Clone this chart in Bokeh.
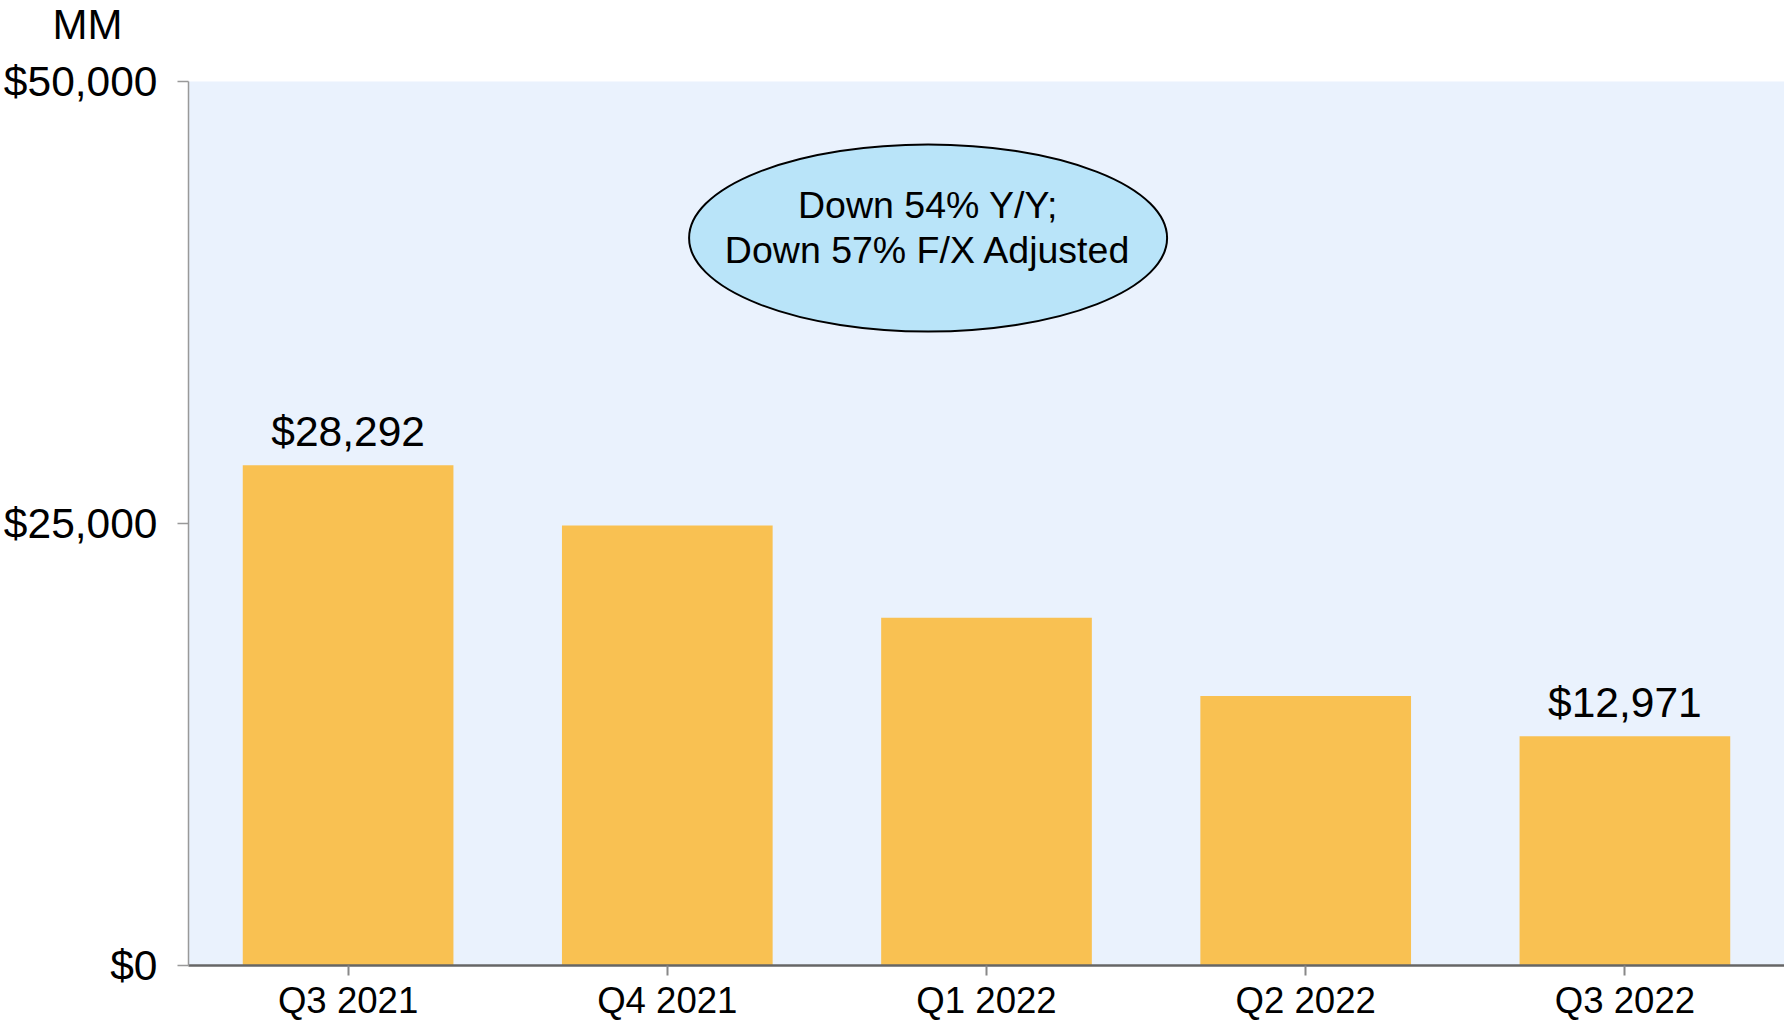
from bokeh.plotting import figure
from bokeh.models import ColumnDataSource, Range1d, FixedTicker, NumeralTickFormatter, Title
from bokeh.core.properties import value
from bokeh.embed import file_html
from bokeh.resources import INLINE

quarters = ["Q3 2021", "Q4 2021", "Q1 2022", "Q2 2022", "Q3 2022"]
amounts = [28292, 24880, 19670, 15250, 12971]
labeled_quarters = ["Q3 2021", "Q3 2022"]
labeled_amounts = [28292, 12971]
label_texts = ["$28,292", "$12,971"]
y_ticks = [0, 25000, 50000]
unit_label = "MM"
note_lines = ["Down 54% Y/Y;", "Down 57% F/X Adjusted"]

FONT = "Liberation Sans"
BAR = "#F9C152"
BG = "#EAF2FD"

p = figure(x_range=quarters, y_range=Range1d(0, 50000), width=1784, height=1023,
           output_backend="svg", toolbar_location=None,
           min_border_left=187, min_border_top=0, min_border_right=0, min_border_bottom=40)
p.background_fill_color = BG
p.border_fill_color = "white"
p.outline_line_color = None
p.grid.grid_line_color = None

# spacer nearest the frame, then the unit label above it
p.add_layout(Title(text=" ", standoff=8, text_font=FONT, text_font_size="20px"), "above")
p.add_layout(Title(text=unit_label, align="left", offset=-136, standoff=0, vertical_align="top",
                   text_font=FONT, text_font_size="42px", text_font_style="normal",
                   text_color="black"), "above")

src = ColumnDataSource(dict(q=quarters, v=amounts))
p.vbar(x="q", top="v", width=0.66, source=src, fill_color=BAR, line_color=None)

lsrc = ColumnDataSource(dict(q=labeled_quarters, v=labeled_amounts, t=label_texts))
p.text(x="q", y="v", text="t", source=lsrc, text_align="center", text_baseline="bottom",
       y_offset=-10, text_font=value(FONT), text_font_size="42.5px", text_color="black")

# callout ellipse
ex, ey = 2.317, 41150
p.ellipse(x=[ex], y=[ey], width=[478], height=[187], width_units="screen", height_units="screen",
          fill_color="#B9E4F9", line_color="black", line_width=2)
p.text(x=[ex, ex], y=[43000, 40480], text=note_lines, text_align="center", text_baseline="middle",
       text_font=value(FONT), text_font_size="37.5px", text_color="black")

# axes
p.yaxis.ticker = FixedTicker(ticks=y_ticks)
p.yaxis.formatter = NumeralTickFormatter(format="$0,0")
p.yaxis.major_label_text_font = FONT
p.yaxis.major_label_text_font_size = "42.5px"
p.yaxis.major_label_text_color = "black"
p.yaxis.major_label_standoff = 20
p.yaxis.axis_line_color = "#999999"
p.yaxis.axis_line_width = 1.5
p.yaxis.major_tick_line_color = "#999999"
p.yaxis.major_tick_line_width = 1.5
p.yaxis.major_tick_out = 11
p.yaxis.major_tick_in = 0
p.yaxis.minor_tick_line_color = None

p.xaxis.major_label_text_font = FONT
p.xaxis.major_label_text_font_size = "36.6px"
p.xaxis.major_label_text_color = "black"
p.xaxis.major_label_standoff = 4
p.xaxis.axis_line_color = "#666666"
p.xaxis.axis_line_width = 2.5
p.xaxis.major_tick_line_color = "#888888"
p.xaxis.major_tick_line_width = 2
p.xaxis.major_tick_out = 10
p.xaxis.major_tick_in = 0
p.xaxis.minor_tick_line_color = None

open("out.html", "w").write(file_html(p, INLINE))
